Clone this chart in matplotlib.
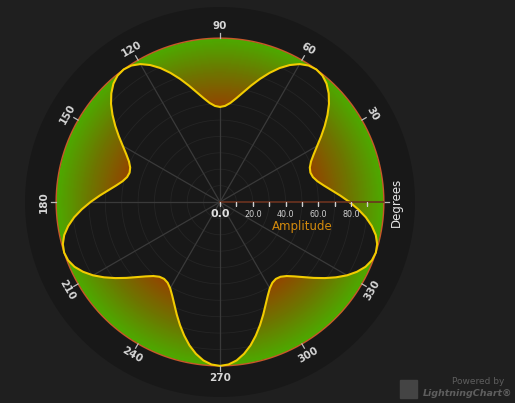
import numpy as np
import matplotlib
matplotlib.use('Agg')
from matplotlib import pyplot as plt
from matplotlib.colors import LinearSegmentedColormap
from matplotlib.path import Path

# amplitude read every 3 degrees, starting at 0 deg
angles_deg = np.arange(0, 360, 3)
amplitude = [
    79.0, 73.6, 68.5, 64.2, 60.8, 58.7, 58.0, 58.7, 60.8, 64.2, 68.5, 73.6,
    79.0, 84.4, 89.5, 93.8, 97.2, 99.3, 100.0, 99.3, 97.2, 93.8, 89.5, 84.4,
    79.0, 73.6, 68.5, 64.2, 60.8, 58.7, 58.0, 58.7, 60.8, 64.2, 68.5, 73.6,
    79.0, 84.4, 89.5, 93.8, 97.2, 99.3, 100.0, 99.3, 97.2, 93.8, 89.5, 84.4,
    79.0, 73.6, 68.5, 64.2, 60.8, 58.7, 58.0, 58.7, 60.8, 64.2, 68.5, 73.6,
    79.0, 84.4, 89.5, 93.8, 97.2, 99.3, 100.0, 99.3, 97.2, 93.8, 89.5, 84.4,
    79.0, 73.6, 68.5, 64.2, 60.8, 58.7, 58.0, 58.7, 60.8, 64.2, 68.5, 73.6,
    79.0, 84.4, 89.5, 93.8, 97.2, 99.3, 100.0, 99.3, 97.2, 93.8, 89.5, 84.4,
    79.0, 73.6, 68.5, 64.2, 60.8, 58.7, 58.0, 58.7, 60.8, 64.2, 68.5, 73.6,
    79.0, 84.4, 89.5, 93.8, 97.2, 99.3, 100.0, 99.3, 97.2, 93.8, 89.5, 84.4,
]
degree_ticks = [30, 60, 90, 120, 150, 180, 210, 240, 270, 300, 330]
amp_labels = [0, 20, 40, 60, 80]
amp_max = 100

BG = '#1f1f1f'
PANEL = '#181818'

fig = plt.figure(figsize=(5.15, 4.03), dpi=100, facecolor=BG)
ax = fig.add_axes([25/515, 6/403, 390/515, 390/403], projection='polar')
ax.set_facecolor(PANEL)
ax.set_ylim(0, 119)
ax.grid(False)
ax.set_xticks([])
ax.set_yticks([])
ax.spines['polar'].set_visible(False)

th = np.radians(angles_deg)
th_closed = np.append(th, 2*np.pi)
amp_closed = np.append(amplitude, amplitude[0])

# grid
full = np.linspace(0, 2*np.pi, 361)
for r in range(10, 100, 10):
    ax.plot(full, [r]*len(full), color='#252525', lw=0.6, zorder=1)
for a in range(30, 360, 30):
    ax.plot([np.radians(a)]*2, [0, amp_max], color='#3a3a3a', lw=0.9, zorder=1)

# gradient fill between curve and outer circle
tg = np.linspace(0, 2*np.pi, 721)
rg = np.linspace(50, amp_max, 80)
C = 0.5*(rg[:-1] + rg[1:])
C = np.tile(C[:, None], (1, len(tg)-1))
cmap = LinearSegmentedColormap.from_list('amp', ['#924400', '#6e7400', '#4caa00'])
mesh = ax.pcolormesh(tg, rg, C, cmap=cmap, vmin=58, vmax=100, shading='flat',
                     edgecolors='none', antialiased=False, zorder=2)
verts = list(zip(th_closed, amp_closed)) + list(zip(th_closed[::-1], [amp_max]*len(th_closed)))
verts.append(verts[0])
codes = [Path.MOVETO] + [Path.LINETO]*(len(verts)-2) + [Path.CLOSEPOLY]
mesh.set_clip_path(Path(verts, codes), ax.transData)

# outer circle and curve
ax.plot(full, [amp_max]*len(full), color='#c8582a', lw=1.0, zorder=3)
ax.plot(th_closed, amp_closed, color='#f2cc00', lw=1.5, zorder=4)

# degree axis ticks and labels
for a in degree_ticks + [0]:
    ax.plot([np.radians(a)]*2, [amp_max, amp_max+3], color='#bbbbbb', lw=0.9, zorder=4)
for a in degree_ticks:
    rot = a - 90 if a <= 180 else a - 270
    ax.text(np.radians(a), 107.5, str(a), rotation=rot, rotation_mode='anchor',
            ha='center', va='center', color='#d6d6d6', fontsize=7.5, fontweight='bold')
ax.text(0, 107.5, 'Degrees', rotation=90, ha='center', va='center',
        color='#e6e6e6', fontsize=8.5)

# amplitude axis
ax.plot([0, 0], [0, amp_max], color='#6b3320', lw=1.2, zorder=5)
ax.plot([0]*10, np.arange(0, amp_max, 10), ls='none', marker=3, ms=3,
        color='#d0d0d0', zorder=6)
for v in amp_labels:
    if v == 0:
        ax.annotate('0.0', xy=(0, v), xytext=(0, -9), textcoords='offset points',
                    ha='center', va='center', color='#e0e0e0', fontsize=8,
                    fontweight='bold', zorder=6)
    else:
        ax.annotate('{:.1f}'.format(v), xy=(0, v), xytext=(0, -9),
                    textcoords='offset points', ha='center', va='center',
                    color='#cfcfcf', fontsize=5.8, zorder=6)
ax.annotate('Amplitude', xy=(0, 50), xytext=(0, -18), textcoords='offset points',
            ha='center', va='center', color='#d38a0c', fontsize=8.5, zorder=6)

# watermark
fig.text(478/515, 1-382/403, 'Powered by', color='#5e5e5e', fontsize=6.5,
         ha='center', va='center')
fig.text(468/515, 1-394/403, 'LightningChart®', color='#5e5e5e', fontsize=6.8,
         fontstyle='italic', fontweight='bold', ha='center', va='center')
fig.patches.append(plt.Rectangle((400/515, 1-398/403), 17/515, 18/403,
                                 transform=fig.transFigure, color='#444444'))

fig.savefig('out.png', dpi=100, facecolor=BG)
